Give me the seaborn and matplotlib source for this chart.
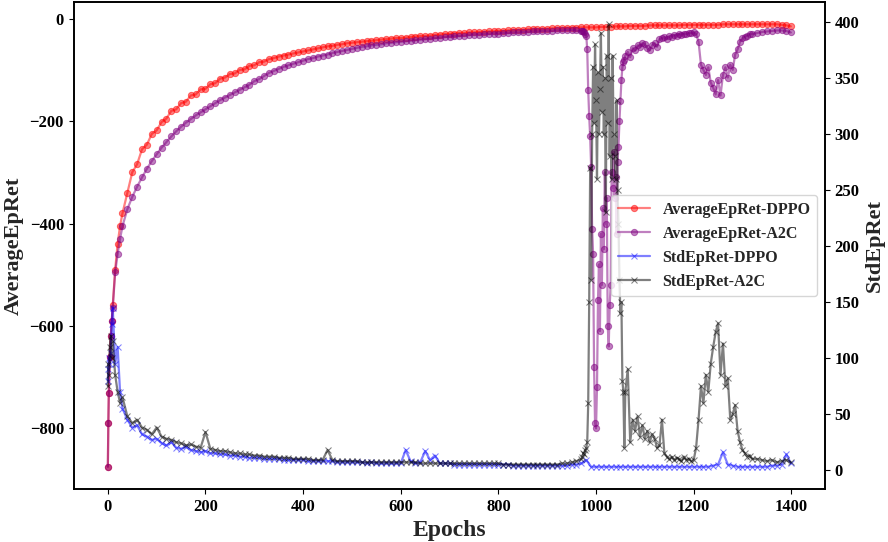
import matplotlib
matplotlib.use('Agg')
import matplotlib.pyplot as plt
import seaborn as sns

early_ep = [0, 1, 2, 4, 6, 8, 10, 15, 20, 25, 30]
epochs_dppo = early_ep + list(range(40, 1400, 10)) + [1399]
epochs_a2c = (early_ep + list(range(40, 971, 10)) + list(range(972, 1061, 2))
              + list(range(1065, 1321, 5)) + list(range(1330, 1400, 10)) + [1399])

avg_dppo = [-875, -790, -730, -660, -620, -590, -560, -490, -440, -405, -380,
            -340, -300, -284, -255, -246, -225, -218, -202, -195, -180,
            -177, -165, -162, -150, -148, -138, -137, -128, -126, -117,
            -115, -108, -107, -100, -99, -92, -91, -85, -84, -79,
            -77, -74, -72, -70, -68, -66, -64, -62, -60, -58,
            -56, -54, -53, -51, -50, -48, -47, -46, -45, -44,
            -43, -42, -41, -40, -39, -38, -38, -37, -36, -35,
            -34, -34, -33, -32, -31, -30, -30, -29, -28, -28,
            -27, -27, -26, -26, -25, -25, -24, -24, -23, -23,
            -22, -22, -21, -21, -21, -20, -20, -19, -19, -19,
            -18, -18, -18, -17, -17, -17, -17, -16, -16, -16,
            -15, -15, -15, -14, -14, -14, -14, -13, -13, -13,
            -13, -13, -13, -13, -12, -12, -12, -12, -12, -12,
            -12, -12, -11, -11, -11, -11, -11, -11, -11, -11,
            -11, -11, -11, -11, -12, -13,
            -15]

std_dppo = [80, 90, 100, 95, 105, 130, 145, 95, 110, 70, 55,
            45, 38, 40, 32, 30, 27, 28, 24, 22, 25,
            20, 19, 21, 18, 17, 16, 17, 15, 15, 14,
            14, 13, 13, 12, 12, 11, 11, 11, 10, 10,
            10, 10, 9, 9, 9, 9, 9, 8, 8, 8,
            8, 8, 8, 7, 7, 7, 7, 7, 7, 6,
            7, 6, 6, 6, 6, 6, 6, 18, 8, 6,
            7, 17, 9, 13, 6, 6, 6, 5, 5, 5,
            5, 5, 5, 5, 5, 5, 5, 5, 5, 4,
            4, 4, 4, 4, 4, 4, 4, 4, 4, 4,
            4, 5, 5, 6, 9, 3, 3, 3, 3, 3,
            3, 3, 3, 3, 3, 3, 3, 3, 3, 3,
            3, 3, 3, 3, 3, 3, 3, 3, 3, 3,
            4, 5, 16, 5, 4, 3, 3, 3, 3, 3,
            3, 3, 4, 4, 5, 14,
            6]

avg_a2c = [-875, -790, -730, -660, -620, -590, -565, -495, -460, -430, -405,
           -372, -348, -328, -310, -293, -278, -265, -252, -241, -230,
           -220, -211, -203, -196, -189, -183, -177, -171, -165, -159,
           -154, -149, -144, -139, -134, -129, -122, -118, -112, -106,
           -102, -98, -94, -91, -88, -85, -82, -79, -77, -74,
           -72, -70, -67, -65, -63, -61, -59, -57, -55, -54,
           -52, -51, -50, -48, -47, -46, -45, -44, -43, -42,
           -41, -40, -39, -38, -37, -36, -35, -34, -34, -33,
           -32, -31, -31, -30, -30, -29, -29, -28, -28, -27,
           -27, -26, -26, -25, -25, -24, -24, -24, -23, -23,
           -22, -22, -23, -25,
           -24, -25, -27, -30, -33, -60, -140, -190, -230, -290,
           -410, -460, -680, -790, -800, -720, -550, -480, -610, -420,
           -520, -370, -450, -300, -400, -350, -600, -640, -560, -520,
           -300, -330, -260, -350, -310, -420, -280, -250, -200, -160,
           -120, -95, -85, -80, -72,
           -65, -75, -58, -62, -52, -55, -48, -50, -58, -62,
           -52, -48, -55, -40, -38, -36, -40, -34, -35, -32,
           -33, -30, -31, -29, -30, -28, -28, -27, -30, -45,
           -90, -100, -110, -95, -125, -135, -148, -120, -150, -110,
           -95, -115, -90, -100, -70, -60, -45, -38, -35, -33,
           -30, -30,
           -28, -26, -25, -24, -23, -23, -24,
           -27]

std_a2c = [75, 95, 85, 110, 120, 100, 115, 85, 70, 60, 65,
           48, 42, 45, 38, 36, 32, 38, 30, 28, 27,
           25, 24, 22, 23, 21, 20, 34, 19, 18, 17,
           17, 16, 15, 15, 14, 14, 13, 13, 12, 12,
           12, 11, 11, 11, 10, 10, 10, 10, 9, 9,
           9, 18, 9, 8, 8, 8, 8, 8, 7, 7,
           7, 7, 7, 7, 7, 7, 7, 7, 7, 7,
           6, 6, 6, 6, 6, 6, 6, 6, 6, 6,
           6, 6, 6, 6, 6, 6, 6, 5, 5, 5,
           5, 5, 5, 5, 5, 5, 5, 5, 5, 6,
           6, 7, 8, 10,
           12, 15, 14, 18, 20, 25, 60, 150, 270, 170,
           300, 360, 310, 380, 330, 260, 355, 300, 340, 390,
           320, 360, 300, 350, 230, 370, 310, 398, 280, 350,
           260, 370, 300, 280, 260, 330, 250, 220, 170, 140,
           150, 80, 70, 20, 70,
           90, 25, 45, 35, 48, 30, 40, 28, 35, 25,
           32, 28, 20, 22, 45, 15, 12, 10, 12, 9,
           11, 10, 8, 12, 9, 10, 8, 9, 20, 45,
           75, 60, 85, 70, 95, 110, 123, 131, 85, 113,
           75, 82, 45, 50, 58, 35, 25, 18, 15, 12,
           13, 10,
           10, 9, 8, 9, 7, 8, 9,
           7]

sns.set_style('ticks')
plt.rcParams['font.family'] = ['Liberation Serif', 'DejaVu Serif']
plt.rcParams['font.weight'] = 'bold'
plt.rcParams['axes.labelweight'] = 'bold'

fig, ax = plt.subplots(figsize=(8.88, 5.42), dpi=100)
fig.subplots_adjust(left=0.083, right=0.929, bottom=0.098, top=0.996)
ax2 = ax.twinx()

common = dict(alpha=0.5, linewidth=1.6)
sns.lineplot(x=epochs_dppo, y=avg_dppo, ax=ax, color='red', marker='o',
             markersize=4.5, mec='red', label='AverageEpRet-DPPO', **common)
sns.lineplot(x=epochs_a2c, y=avg_a2c, ax=ax, color='purple', marker='o',
             markersize=4.5, mec='purple', label='AverageEpRet-A2C', **common)
sns.lineplot(x=epochs_dppo, y=std_dppo, ax=ax2, color='blue', marker='x',
             markersize=4, mec='blue', label='StdEpRet-DPPO', **common)
sns.lineplot(x=epochs_a2c, y=std_a2c, ax=ax2, color='black', marker='x',
             markersize=4, mec='black', label='StdEpRet-A2C', **common)

ax.set_xlabel('Epochs', fontsize=17, fontweight='bold')
ax.set_ylabel('AverageEpRet', fontsize=16, fontweight='bold')
ax2.set_ylabel('StdEpRet', fontsize=16, fontweight='bold')
ax.set_xticks(range(0, 1401, 200))
ax.set_yticks(range(-800, 1, 200))
ax2.set_yticks(range(0, 401, 50))
for a in (ax, ax2):
    a.tick_params(labelsize=12, colors='black')
    for lab in a.get_xticklabels() + a.get_yticklabels():
        lab.set_fontweight('bold')
    for sp in a.spines.values():
        sp.set_color('black')
        sp.set_linewidth(1.2)

h1, l1 = ax.get_legend_handles_labels()
h2, l2 = ax2.get_legend_handles_labels()
ax.get_legend().remove()
ax2.get_legend().remove()
ax2.legend(h1 + h2, l1 + l2, loc='center right',
           prop={'family': 'Liberation Serif', 'weight': 'bold', 'size': 11.5})

plt.savefig('out.png', dpi=100)
